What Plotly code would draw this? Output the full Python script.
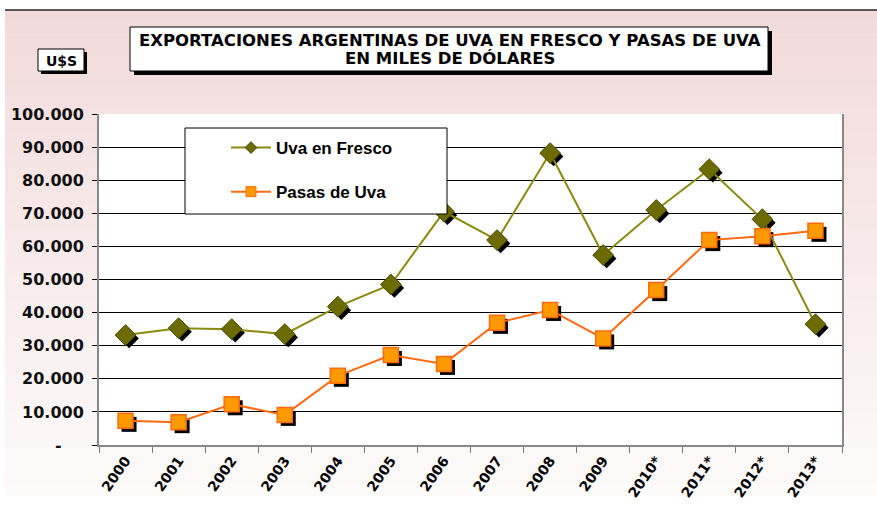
import plotly.graph_objects as go

# ---------------- data ----------------
years = ["2000", "2001", "2002", "2003", "2004", "2005", "2006", "2007",
         "2008", "2009", "2010*", "2011*", "2012*", "2013*"]
uva_fresco = [33200, 35300, 35000, 33500, 41800, 48500, 70500, 61900,
              88200, 57400, 71000, 83300, 68200, 36500]
pasas_uva = [7300, 6900, 12300, 9100, 20900, 27200, 24500, 36900,
             40800, 32200, 46800, 61900, 63100, 64700]
y_tick_vals = [0, 10000, 20000, 30000, 40000, 50000, 60000, 70000, 80000, 90000, 100000]
y_tick_text = ["-\u00a0\u00a0\u00a0\u00a0", "10.000", "20.000", "30.000", "40.000", "50.000",
               "60.000", "70.000", "80.000", "90.000", "100.000"]
title_line1 = "EXPORTACIONES ARGENTINAS DE UVA EN FRESCO Y PASAS DE UVA"
title_line2 = "EN MILES DE DÓLARES"
unit_label = "U$S"
name_fresco = "Uva en Fresco"
name_pasas = "Pasas de Uva"

# ---------------- layout geometry (pixels) ----------------
W, H = 877, 518
PL, PR, PT, PB = 99, 842, 114, 445


def px(x):
    return (x - PL) / (PR - PL)


def py(y):
    return (PB - y) / (PB - PT)


YMAX = 100000
n = len(years)
cat_w = (PR - PL) / n
shadow_px = 3.5
dx = shadow_px / cat_w
dy = shadow_px * YMAX / (PB - PT)

OLIVE_LINE = "#8a8a10"
OLIVE_FILL = "#6b6b00"
ORANGE_LINE = "#ff6a10"
ORANGE_FILL = "#ff9900"

fig = go.Figure()

# base (visible axes) – invisible carrier trace
fig.add_trace(go.Scatter(x=years, y=uva_fresco, mode="markers", marker=dict(opacity=0),
                         showlegend=False, hoverinfo="skip", xaxis="x", yaxis="y"))

# shadows on shifted overlay axes
for vals, sym in ((pasas_uva, "square"), (uva_fresco, "diamond")):
    fig.add_trace(go.Scatter(x=years, y=vals, mode="markers",
                             marker=dict(symbol=sym, size=15, color="black", line=dict(width=0)),
                             showlegend=False, hoverinfo="skip", xaxis="x2", yaxis="y2"))

# main series
fig.add_trace(go.Scatter(x=years, y=uva_fresco, name=name_fresco, mode="lines+markers",
                         line=dict(color=OLIVE_LINE, width=2),
                         marker=dict(symbol="diamond", size=16, color=OLIVE_FILL,
                                     line=dict(color="#4a4a00", width=1)),
                         showlegend=False, xaxis="x3", yaxis="y3"))
fig.add_trace(go.Scatter(x=years, y=pasas_uva, name=name_pasas, mode="lines+markers",
                         line=dict(color=ORANGE_LINE, width=2),
                         marker=dict(symbol="square", size=15, color=ORANGE_FILL,
                                     line=dict(color=ORANGE_LINE, width=1.5)),
                         showlegend=False, xaxis="x3", yaxis="y3"))

# legend proxies (small legend symbols like the original)
fig.add_trace(go.Scatter(x=[None], y=[None], name=name_fresco, mode="lines+markers",
                         line=dict(color=OLIVE_LINE, width=2),
                         marker=dict(symbol="diamond", size=9, color=OLIVE_FILL,
                                     line=dict(color="#4a4a00", width=1)),
                         legendgroup="a", xaxis="x3", yaxis="y3"))
fig.add_trace(go.Scatter(x=[None], y=[None], name=name_pasas, mode="lines+markers",
                         line=dict(color=ORANGE_LINE, width=2),
                         marker=dict(symbol="square", size=10, color=ORANGE_FILL,
                                     line=dict(color=ORANGE_LINE, width=1)),
                         legendgroup="b", xaxis="x3", yaxis="y3"))

xr = [-0.5, n - 0.5]
yr = [0, YMAX]

shapes = []
# background gradient (pink at top fading to white)
top_c = (242, 218, 218)
bot_c = (253, 250, 250)
y0, y1 = 10, 496
steps = 40
for i in range(steps):
    a = y0 + (y1 - y0) * i / steps
    b = y0 + (y1 - y0) * (i + 1) / steps
    t = i / (steps - 1)
    c = tuple(int(round(top_c[k] + (bot_c[k] - top_c[k]) * t)) for k in range(3))
    shapes.append(dict(type="rect", xref="paper", yref="paper", layer="below",
                       x0=px(5), x1=px(W + 2), y0=py(a), y1=py(b + 0.5),
                       fillcolor="rgb(%d,%d,%d)" % c, line=dict(width=0)))
# white plot area over gradient
shapes.append(dict(type="rect", xref="paper", yref="paper", layer="below",
                   x0=0, x1=1, y0=0, y1=1, fillcolor="white", line=dict(width=0)))
# top dark rule
shapes.append(dict(type="line", xref="paper", yref="paper", layer="above",
                   x0=px(5), x1=px(W + 2), y0=py(10), y1=py(10),
                   line=dict(color="#222222", width=1.5)))


def boxed(x0, y0_, x1, y1_, off=4):
    shapes.append(dict(type="rect", xref="paper", yref="paper", layer="above",
                       x0=px(x0 + off), x1=px(x1 + off), y0=py(y0_ + off), y1=py(y1_ + off),
                       fillcolor="black", line=dict(width=0)))
    shapes.append(dict(type="rect", xref="paper", yref="paper", layer="above",
                       x0=px(x0), x1=px(x1), y0=py(y0_), y1=py(y1_),
                       fillcolor="white", line=dict(color="black", width=1)))


boxed(130, 27, 768, 71)
boxed(38, 49, 84, 71, off=3)
# legend box
shapes.append(dict(type="rect", xref="paper", yref="paper", layer="above",
                   x0=px(185), x1=px(447), y0=py(128), y1=py(214),
                   fillcolor="white", line=dict(color="black", width=1)))

annotations = [
    dict(text="<b>%s</b>" % title_line1, xref="paper", yref="paper", x=px(450), y=py(40),
         showarrow=False, xanchor="center", yanchor="middle",
         font=dict(family="DejaVu Sans", size=16.5, color="black")),
    dict(text="<b>%s</b>" % title_line2, xref="paper", yref="paper", x=px(450), y=py(59),
         showarrow=False, xanchor="center", yanchor="middle",
         font=dict(family="DejaVu Sans", size=16.5, color="black")),
    dict(text="<b>%s</b>" % unit_label, xref="paper", yref="paper", x=px(61), y=py(60.5),
         showarrow=False, xanchor="center", yanchor="middle",
         font=dict(family="DejaVu Sans", size=14, color="black")),
]

fig.update_layout(
    width=W, height=H,
    margin=dict(l=PL, r=W - PR, t=PT, b=H - PB, pad=0),
    paper_bgcolor="white",
    plot_bgcolor="white",
    shapes=shapes,
    annotations=annotations,
    showlegend=True,
    legend=dict(x=px(226), y=py(130), xanchor="left", yanchor="top",
                bgcolor="rgba(0,0,0,0)", borderwidth=0,
                font=dict(family="Liberation Sans", size=17, color="black", weight="bold"),
                traceorder="grouped", tracegroupgap=19, itemsizing="trace",
                itemwidth=40),
    xaxis=dict(type="category", categoryorder="array", categoryarray=years, range=xr,
               tickson="boundaries", ticks="outside", ticklen=6, tickcolor="#777777",
               showline=True, linecolor="#888888", linewidth=2, showgrid=False,
               tickangle=-55, zeroline=False,
               tickfont=dict(family="DejaVu Sans", size=14, color="black", weight="bold")),
    yaxis=dict(range=yr, tickvals=y_tick_vals, ticktext=y_tick_text,
               showgrid=True, gridcolor="black", gridwidth=1,
               ticks="outside", ticklen=5, tickcolor="black",
               showline=True, linecolor="#888888", linewidth=2, mirror=True,
               zeroline=False, ticklabelstandoff=5,
               tickfont=dict(family="DejaVu Sans", size=16, color="#111111", weight="bold")),
    xaxis2=dict(type="category", categoryorder="array", categoryarray=years,
                range=[xr[0] - dx, xr[1] - dx], overlaying="x", visible=False),
    yaxis2=dict(range=[yr[0] + dy, yr[1] + dy], overlaying="y", visible=False),
    xaxis3=dict(type="category", categoryorder="array", categoryarray=years,
                range=xr, overlaying="x", visible=False),
    yaxis3=dict(range=yr, overlaying="y", visible=False),
)

fig.write_html("out.html", config={"displayModeBar": False},
               post_script="document.body.style.margin='0';")
